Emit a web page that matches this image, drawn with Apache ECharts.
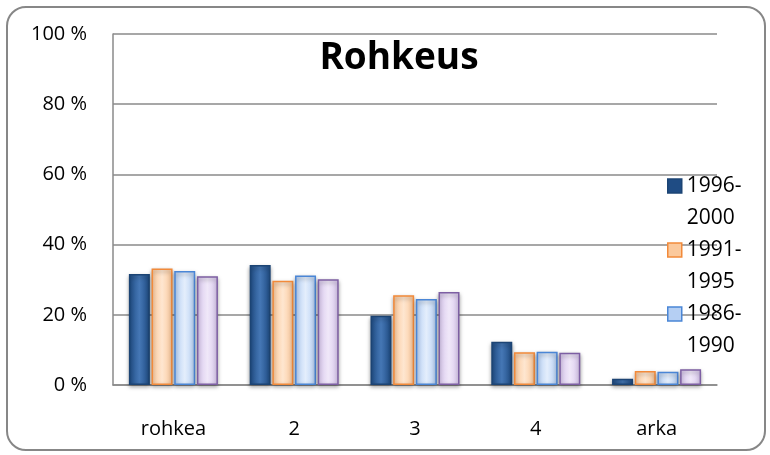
<!DOCTYPE html>
<html>
<head>
<meta charset="utf-8">
<title>Rohkeus</title>
<script src="https://cdn.jsdelivr.net/npm/echarts@6/dist/echarts.min.js"></script>
<style>
  html, body { margin: 0; padding: 0; background: #fff; }
  #frame {
    position: absolute;
    left: 6px;
    top: 6px;
    width: 756px;
    height: 441px;
    border: 2px solid #878787;
    border-radius: 20px;
  }
  #chart { position: absolute; left: 0; top: 0; width: 770px; height: 455px; }
</style>
</head>
<body>
<div id="frame"></div>
<div id="chart"></div>
<script>
// kategoriat ja jaksot
const categories = ['rohkea', '2', '3', '4', 'arka']
const periods = ['1996-2000', '1991-1995', '1986-1990', '1981-1985']
// osuudet prosentteina, yksi taulukko per jakso
const p1996 = [31.6, 34.2, 19.7, 12.3, 1.8]
const p1991 = [33.2, 29.7, 25.6, 9.3, 4.0]
const p1986 = [32.5, 31.2, 24.5, 9.5, 3.8]
const p1981 = [31.0, 30.1, 26.5, 9.2, 4.5]
const yTicks = [0, 20, 40, 60, 80, 100]

// värit: [reuna, tumma, vaalea]
const colors = [
  ['#1c4474', '#1f4c84', '#4577b5'],
  ['#f28a3a', '#fbc99c', '#fee6d0'],
  ['#4a86d6', '#b5cff3', '#e4eefc'],
  ['#7d5fa3', '#d7c6ec', '#f0e8f9']
]

const chart = echarts.init(document.getElementById('chart'))

function barStyle (c) {
  return {
    borderColor: c[0],
    borderWidth: 1.5,
    shadowColor: 'rgba(0,0,0,0.35)',
    shadowBlur: 4,
    shadowOffsetY: 2,
    color: new echarts.graphic.LinearGradient(0, 0, 1, 0, [
      { offset: 0, color: c[1] },
      { offset: 0.5, color: c[2] },
      { offset: 1, color: c[1] }
    ])
  }
}

const values = [p1996, p1991, p1986, p1981]
const series = periods.map((name, i) => ({
  name: name,
  type: 'bar',
  data: values[i],
  barWidth: 21,
  barGap: '8%',
  itemStyle: barStyle(colors[i]),
  emphasis: { disabled: true }
}))

const option = {
  animation: false,
  textStyle: { fontFamily: 'Open Sans' },
  title: {
    text: 'Rohkeus',
    left: 394,
    top: 35,
    textAlign: 'center',
    textStyle: { fontFamily: 'Open Sans', fontWeight: 'bold', fontSize: 37, color: '#000' }
  },
  legend: {
    // neljäs jakso ei mahdu legendaan
    data: periods.slice(0, 3).map((name, i) => ({
      name: name,
      icon: 'rect',
      itemStyle: { color: colors[i][1], borderColor: colors[i][0], borderWidth: 1.5 }
    })),
    orient: 'vertical',
    left: 662,
    top: 133,
    itemWidth: 14,
    itemHeight: 14,
    itemGap: -32,
    // tyhjä rivi alkuun, jotta merkki osuu ensimmäisen rivin kohdalle
    formatter: name => '\n' + name.replace('-', '-\n'),
    textStyle: {
      fontFamily: 'Open Sans',
      fontSize: 21,
      color: '#000',
      lineHeight: 32
    }
  },
  grid: { left: 113, right: 53, top: 34, bottom: 70 },
  xAxis: {
    type: 'category',
    data: categories,
    axisLine: { lineStyle: { color: '#8a8a8a', width: 1.5 } },
    axisTick: { show: false },
    axisLabel: { fontSize: 20, color: '#000', margin: 34 }
  },
  yAxis: {
    type: 'value',
    min: yTicks[0],
    max: yTicks[yTicks.length - 1],
    interval: 20,
    axisLine: { show: true, lineStyle: { color: '#8a8a8a', width: 1.5 } },
    axisTick: { show: false },
    splitLine: { lineStyle: { color: '#8a8a8a', width: 1.5 } },
    axisLabel: { fontSize: 20, color: '#000', margin: 26, formatter: '{value} %' }
  },
  series: series
}

chart.setOption(option)
</script>
</body>
</html>
